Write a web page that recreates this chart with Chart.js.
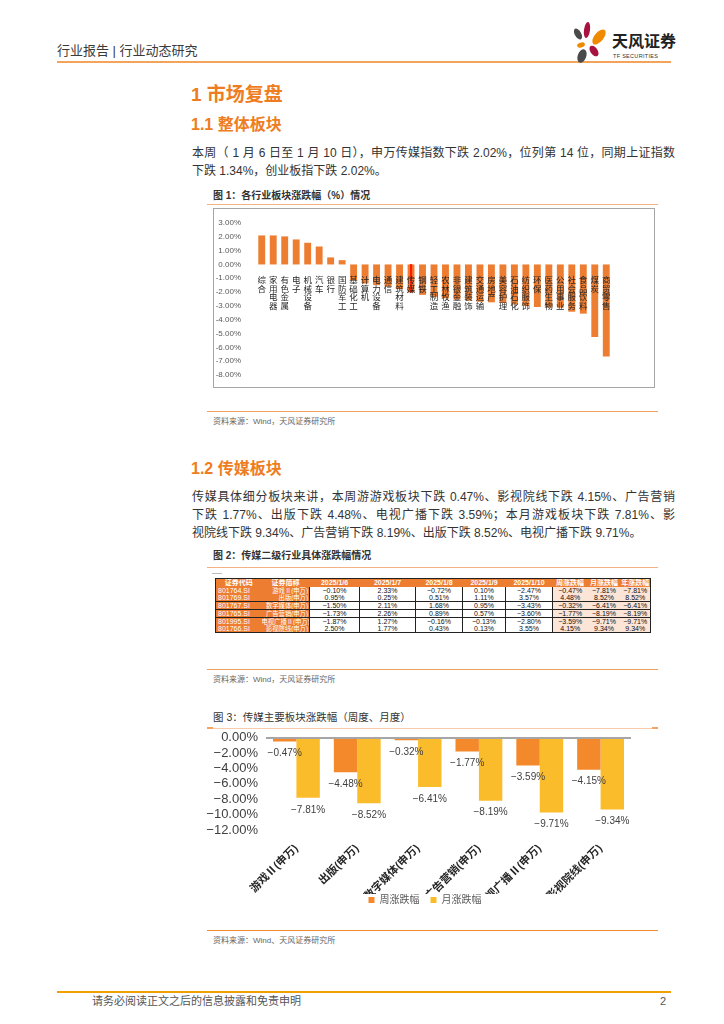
<!DOCTYPE html>
<html><head><meta charset="utf-8">
<script src="https://cdn.jsdelivr.net/npm/chart.js@4"></script>
<style>
html,body{margin:0;padding:0;background:#fff;}
body{width:724px;height:1024px;position:relative;overflow:hidden;font-family:"Liberation Sans","Noto Sans CJK SC",sans-serif;color:#333;}
.abs{position:absolute;white-space:nowrap;}
.bar{position:absolute;}
.h1{color:#EE7D22;font-weight:bold;}
.para{position:absolute;left:192px;width:483px;font-size:12px;line-height:18px;color:#333;}
.para div{white-space:nowrap;}
.para .j{text-align:justify;text-align-last:justify;white-space:normal;}
.ftitle{font-size:10px;line-height:12px;font-weight:bold;color:#333;}
.src{font-size:8px;line-height:10px;color:#666;}
table.t{position:absolute;left:215px;top:578px;border-collapse:collapse;table-layout:fixed;font-size:7px;font-family:"Liberation Sans","Noto Sans CJK SC",sans-serif;border:1px solid #222;}
table.t th{background:#ED7D31;color:#fff;font-weight:bold;height:8px;line-height:8px;padding:0;text-align:center;overflow:hidden;white-space:nowrap;}
table.t td{height:7px;line-height:7px;padding:0 2px;overflow:hidden;white-space:nowrap;text-align:center;color:#111;}
table.t td.c0{background:#ED7D31;color:#fff;text-align:left;}
table.t td.c1{background:#ED7D31;color:#fff;text-align:right;padding:0 1px 0 0;font-size:6.3px;}
table.t td.d{border-left:1px solid #222;}
table.t td.p{background:#FCE4D6;}
table.t td.p1{border-left:1px solid #222;}
table.t tr.g td{border-bottom:1px solid #222;}
</style></head>
<body>
<!-- header -->
<div class="abs" style="left:57px;top:43px;font-size:13px;line-height:16px;color:#3a3a3a;">行业报告 | 行业动态研究</div>
<div class="bar" style="left:57px;top:61px;width:614px;height:2px;background:#F3A35A;"></div>
<svg style="position:absolute;left:566px;top:20px" width="46" height="44" viewBox="0 0 46 44">
  <ellipse cx="12" cy="14" rx="3.2" ry="6" transform="rotate(-30 12 14)" fill="#4a4a4a"/>
  <ellipse cx="21" cy="10" rx="3" ry="8" transform="rotate(8 21 10)" fill="#A8123E"/>
  <ellipse cx="33" cy="17" rx="4.5" ry="9" transform="rotate(40 33 17)" fill="#F08A00"/>
  <ellipse cx="15" cy="25" rx="4" ry="2.4" transform="rotate(-20 15 25)" fill="#F08A00"/>
  <ellipse cx="28" cy="31" rx="3.6" ry="6" transform="rotate(-35 28 31)" fill="#A8123E"/>
  <ellipse cx="16" cy="36" rx="4.2" ry="7" transform="rotate(20 16 36)" fill="#4a4a4a"/>
</svg>
<div class="abs" style="left:612px;top:32px;font-size:16px;line-height:20px;font-weight:bold;color:#222;">天风证券</div>
<div class="abs" style="left:613px;top:53px;font-size:5.5px;line-height:6px;color:#333;letter-spacing:0.3px;">TF SECURITIES</div>

<!-- section 1 -->
<div class="abs h1" style="left:191px;top:84px;font-size:19px;line-height:22px;">1 市场复盘</div>
<div class="abs h1" style="left:191px;top:116px;font-size:16px;line-height:18px;">1.1 整体板块</div>
<div class="para" style="top:144px;">
  <div class="j">本周（ 1 月 6 日至 1 月 10 日），申万传媒指数下跌 2.02%，位列第 14 位，同期上证指数</div>
  <div>下跌 1.34%，创业板指下跌 2.02%。</div>
</div>
<div class="abs ftitle" style="left:213px;top:190px;">图 1：各行业板块涨跌幅（%）情况</div>
<div class="bar" style="left:207px;top:204px;width:451px;height:1px;background:#F4B183;"></div>
<div class="bar" style="left:213px;top:208px;width:442px;height:180px;border:1.5px solid #A6A6A6;box-sizing:border-box;"></div>
<div class="bar" style="left:213px;top:208px;width:442px;height:180px;"><canvas id="c1"></canvas></div>
<div class="bar" style="left:207px;top:411px;width:451px;height:1px;background:#F0A060;"></div>
<div class="abs src" style="left:213px;top:417px;">资料来源：Wind，天风证券研究所</div>

<!-- section 1.2 -->
<div class="abs h1" style="left:191px;top:460px;font-size:16px;line-height:18px;">1.2 传媒板块</div>
<div class="para" style="top:488px;">
  <div class="j">传媒具体细分板块来讲，本周游游戏板块下跌 0.47%、影视院线下跌 4.15%、广告营销</div>
  <div class="j">下跌 1.77%、出版下跌 4.48%、电视广播下跌 3.59%；本月游戏板块下跌 7.81%、影</div>
  <div>视院线下跌 9.34%、广告营销下跌 8.19%、出版下跌 8.52%、电视广播下跌 9.71%。</div>
</div>
<div class="abs ftitle" style="left:213px;top:550px;">图 2：传媒二级行业具体涨跌幅情况</div>
<div class="bar" style="left:207px;top:567px;width:451px;height:1px;background:#F4B183;"></div>
<div class="bar" style="left:212px;top:573px;width:10px;height:1px;background:#bbb;"></div>
<table class="t" id="tbl"></table>
<div class="bar" style="left:207px;top:669px;width:451px;height:1px;background:#F0A060;"></div>
<div class="abs src" style="left:213px;top:675px;">资料来源：Wind，天风证券研究所</div>

<!-- figure 3 -->
<div class="abs ftitle" style="left:213px;top:711px;font-weight:normal;font-size:10.5px;">图 3：传媒主要板块涨跌幅（周度、月度）</div>
<div class="bar" style="left:207px;top:728px;width:451px;height:1px;background:#F8CBAD;"></div>
<div class="bar" style="left:207px;top:727px;width:6px;height:2px;background:#F4A460;"></div>
<div class="bar" style="left:652px;top:727px;width:6px;height:2px;background:#F4A460;"></div>
<div class="bar" style="left:200px;top:722px;width:458px;height:193px;"><canvas id="c3"></canvas></div>
<div class="bar" style="left:207px;top:930px;width:451px;height:1px;background:#F08A2A;"></div>
<div class="abs src" style="left:213px;top:936px;">资料来源：Wind、天风证券研究所</div>

<!-- footer -->
<div class="bar" style="left:57px;top:991px;width:614px;height:2px;background:#F0A000;"></div>
<div class="abs" style="left:92px;top:995px;font-size:11px;line-height:13px;color:#555;">请务必阅读正文之后的信息披露和免责申明</div>
<div class="abs" style="left:660px;top:995px;font-size:11px;line-height:13px;color:#555;">2</div>

<script>
// ---------- Figure 1 data ----------
const industries = ['综合','家用电器','有色金属','电子','机械设备','汽车','银行','国防军工','基础化工','计算机','电力设备','通信','建筑材料','传媒','钢铁','轻工制造','农林牧渔','非银金融','建筑装饰','交通运输','房地产','美容护理','石油石化','纺织服饰','环保','医药生物','公用事业','社会服务','食品饮料','煤炭','商贸零售'];
const industryChanges = [2.10, 2.10, 2.03, 1.81, 1.57, 1.30, 0.51, 0.31, -1.15, -1.38, -1.50, -1.60, -1.78, -2.02, -2.20, -2.34, -2.45, -2.54, -2.62, -2.70, -2.74, -2.79, -2.90, -3.00, -3.08, -3.12, -3.13, -3.42, -3.56, -5.25, -6.66];
const highlightChanges = industries.map((n, i) => n === '传媒' ? industryChanges[i] : null);
const fig1Ticks = [3, 2, 1, 0, -1, -2, -3, -4, -5, -6, -7, -8];

// ---------- Table data ----------
const tableHeaders = ['证券代码','证券简称','2025/1/6','2025/1/7','2025/1/8','2025/1/9','2025/1/10','周涨跌幅','月涨跌幅','年涨跌幅'];
const tableCodes = ['801764.SI','801769.SI','801767.SI','801765.SI','801995.SI','801766.SI'];
const tableNames = ['游戏Ⅱ(申万)','出版(申万)','数字媒体(申万)','广告营销(申万)','电视广播Ⅱ(申万)','影视院线(申万)'];
const tableValues = [
  ['−0.10%','2.33%','−0.72%','0.10%','−2.47%','−0.47%','−7.81%','−7.81%'],
  ['0.95%','0.25%','0.51%','1.11%','3.57%','4.48%','8.52%','8.52%'],
  ['−1.50%','2.11%','1.68%','0.95%','−3.43%','−0.32%','−6.41%','−6.41%'],
  ['−1.73%','2.26%','0.89%','0.57%','−3.60%','−1.77%','−8.19%','−8.19%'],
  ['−1.87%','1.27%','−0.16%','−0.13%','−2.80%','−3.59%','−9.71%','−9.71%'],
  ['2.50%','1.77%','0.43%','0.13%','3.55%','4.15%','9.34%','9.34%']
];
const tableColWidths = [46,48,50,56,47,43,47,35,33,30];

// ---------- Figure 3 data ----------
const mediaSectors = ['游戏Ⅱ(申万)','出版(申万)','数字媒体(申万)','广告营销(申万)','电视广播Ⅱ(申万)','影视院线(申万)'];
const weeklyChange = [-0.47, -4.48, -0.32, -1.77, -3.59, -4.15];
const monthlyChange = [-7.81, -8.52, -6.41, -8.19, -9.71, -9.34];
const seriesNames = ['周涨跌幅', '月涨跌幅'];

// build table
(function(){
  const t = document.getElementById('tbl');
  let html = '<colgroup>' + tableColWidths.map(w => '<col style="width:' + w + 'px">').join('') + '</colgroup>';
  html += '<tr>' + tableHeaders.map(h => '<th>' + h + '</th>').join('') + '</tr>';
  const groupEnds = [1, 2, 3];
  tableCodes.forEach((code, r) => {
    html += '<tr' + (groupEnds.includes(r) ? ' class="g"' : '') + '>';
    html += '<td class="c0">' + code + '</td><td class="c1">' + tableNames[r] + '</td>';
    tableValues[r].forEach((v, c) => {
      let cls = c < 5 ? 'd' : ('p' + (c === 5 ? ' p1' : ''));
      html += '<td class="' + cls + '">' + v + '</td>';
    });
    html += '</tr>';
  });
  t.innerHTML = html;
  t.style.width = tableColWidths.reduce((a,b)=>a+b,0) + 'px';
})();

Chart.defaults.font.family = '"Liberation Sans","Noto Sans CJK SC",sans-serif';
Chart.defaults.animation = false;

// Figure 1
new Chart(document.getElementById('c1'), {
  type: 'bar',
  data: {
    labels: industries.map(s => s.split('')),
    datasets: [
      { data: industryChanges, backgroundColor: '#ED7D31', barPercentage: 0.6, categoryPercentage: 1.0, order: 2 },
      { data: highlightChanges, backgroundColor: '#FF1A00', barThickness: 1.5, grouped: false, order: 1 }
    ]
  },
  options: {
    responsive: true, maintainAspectRatio: false,
    layout: { padding: { left: 0, right: 43, top: 15, bottom: 13 } },
    plugins: { legend: { display: false }, tooltip: { enabled: false } },
    scales: {
      x: {
        position: { y: 0 },
        grid: { display: false }, border: { display: false },
        ticks: { z: 1, autoSkip: false, maxRotation: 0, minRotation: 0, padding: 4, color: '#262626', font: { size: 8.5, lineHeight: 1.0 } }
      },
      y: {
        min: -8, max: 3,
        afterBuildTicks: s => { s.ticks = fig1Ticks.map(v => ({ value: v })); },
        afterFit: s => { s.width = 43; },
        grid: { display: false }, border: { display: false },
        ticks: { autoSkip: false, padding: 7, color: '#595959', font: { size: 8 }, callback: v => v.toFixed(2) + '%' }
      }
    }
  }
});

// Figure 3
const fmtPct = v => (v < 0 ? '−' : '') + Math.abs(v).toFixed(2) + '%';
const barLabels = {
  id: 'barLabels',
  afterDatasetsDraw(chart) {
    const ctx = chart.ctx;
    ctx.save();
    ctx.font = '10px "Liberation Sans", sans-serif';
    ctx.fillStyle = '#404040';
    ctx.textAlign = 'center';
    ctx.textBaseline = 'middle';
    chart.data.datasets.forEach((ds, di) => {
      chart.getDatasetMeta(di).data.forEach((el, i) => {
        ctx.fillText(fmtPct(ds.data[i]), el.x, el.y + 12);
      });
    });
    ctx.restore();
  }
};
new Chart(document.getElementById('c3'), {
  type: 'bar',
  data: {
    labels: mediaSectors,
    datasets: [
      { label: seriesNames[0], data: weeklyChange, backgroundColor: '#F4892C', categoryPercentage: 0.77, barPercentage: 1.0 },
      { label: seriesNames[1], data: monthlyChange, backgroundColor: '#FBBC2C', categoryPercentage: 0.77, barPercentage: 1.0 }
    ]
  },
  options: {
    responsive: true, maintainAspectRatio: false,
    layout: { padding: { left: 0, right: 8, top: 12, bottom: 0 } },
    plugins: {
      tooltip: { enabled: false },
      legend: {
        position: 'bottom',
        labels: {
          boxWidth: 6, boxHeight: 6, padding: 1, color: '#595959', font: { size: 10 },
          generateLabels: ch => {
            const items = Chart.defaults.plugins.legend.labels.generateLabels(ch);
            return items.map((it, i) => Object.assign(it, { text: i < items.length - 1 ? it.text + '\u2002\u2002' : it.text }));
          }
        }
      }
    },
    scales: {
      x: {
        grid: { display: false }, border: { display: false },
        afterFit: s => { s.height = 64; },
        ticks: { autoSkip: false, maxRotation: 45, minRotation: 45, padding: 4, color: '#262626', font: { size: 11, weight: 'bold' } }
      },
      y: {
        min: -12, max: 0,
        afterFit: s => { s.width = 66; },
        border: { display: false },
        grid: { z: 1, drawTicks: false, lineWidth: 2, color: c => (c.tick && c.tick.value === 0) ? '#A6A6A6' : 'rgba(0,0,0,0)' },
        ticks: { autoSkip: false, stepSize: 2, padding: 8, color: '#404040', font: { size: 13 }, callback: v => v === 0 ? '0.00%' : fmtPct(v) }
      },
      yRight: {
        position: 'right', display: true,
        grid: { display: false }, border: { display: false },
        ticks: { display: false },
        afterFit: s => { s.width = 19; }
      }
    }
  },
  plugins: [barLabels]
});
</script>
</body></html>
